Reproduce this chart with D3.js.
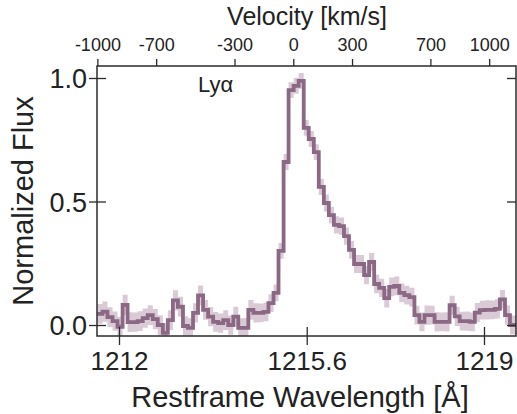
<!DOCTYPE html>
<html>
<head>
<meta charset="utf-8">
<script src="https://cdn.jsdelivr.net/npm/d3@7"></script>
<style>
  body { margin: 0; background: #fff; }
  svg text { font-family: "Liberation Sans", Arial, sans-serif; fill: #222; }
</style>
</head>
<body>
<div id="chart"></div>
<script>
// bin centres [Angstrom]
var wave = [1211.634, 1211.731, 1211.827, 1211.924, 1212.020, 1212.117, 1212.213, 1212.310,
    1212.406, 1212.503, 1212.599, 1212.696, 1212.792, 1212.889, 1212.985, 1213.082,
    1213.178, 1213.275, 1213.371, 1213.468, 1213.564, 1213.661, 1213.757, 1213.854,
    1213.950, 1214.047, 1214.143, 1214.240, 1214.336, 1214.433, 1214.529, 1214.626,
    1214.722, 1214.819, 1214.915, 1215.012, 1215.108, 1215.205, 1215.301, 1215.398,
    1215.494, 1215.591, 1215.687, 1215.784, 1215.880, 1215.977, 1216.073, 1216.170,
    1216.266, 1216.363, 1216.459, 1216.556, 1216.652, 1216.749, 1216.845, 1216.942,
    1217.038, 1217.135, 1217.231, 1217.328, 1217.424, 1217.521, 1217.617, 1217.714,
    1217.810, 1217.907, 1218.003, 1218.100, 1218.196, 1218.293, 1218.389, 1218.486,
    1218.582, 1218.679, 1218.775, 1218.872, 1218.968, 1219.065, 1219.161, 1219.258,
    1219.354, 1219.451, 1219.547, 1219.644];

var flux = [0.045, 0.054, 0.032, 0.016, -0.007, 0.081, 0.012, 0.012,
    0.016, 0.028, 0.040, 0.024, 0.000, -0.032, 0.020, 0.100,
    0.074, -0.004, -0.012, 0.049, 0.120, 0.061, 0.034, 0.013,
    0.008, 0.020, 0.000, 0.034, -0.012, -0.012, 0.061, 0.049,
    0.049, 0.053, 0.089, 0.130, 0.300, 0.660, 0.951, 0.968,
    0.988, 0.798, 0.753, 0.700, 0.559, 0.494, 0.445, 0.405,
    0.400, 0.360, 0.304, 0.247, 0.247, 0.202, 0.255, 0.166,
    0.150, 0.109, 0.154, 0.158, 0.130, 0.121, 0.113, 0.040,
    0.013, 0.040, 0.040, 0.013, 0.013, 0.013, 0.080, 0.035,
    0.016, 0.016, 0.013, 0.050, 0.060, 0.061, 0.061, 0.065,
    0.104, 0.040, 0.000, 0.000];

var fluxErr = [0.040, 0.041, 0.040, 0.039, 0.040, 0.041, 0.040, 0.039,
    0.040, 0.039, 0.040, 0.041, 0.040, 0.039, 0.040, 0.041,
    0.040, 0.039, 0.040, 0.039, 0.040, 0.040, 0.039, 0.040,
    0.039, 0.040, 0.039, 0.040, 0.039, 0.040, 0.040, 0.039,
    0.038, 0.038, 0.036, 0.034, 0.032, 0.032, 0.032, 0.032,
    0.032, 0.032, 0.032, 0.032, 0.033, 0.034, 0.034, 0.035,
    0.035, 0.035, 0.036, 0.036, 0.036, 0.037, 0.037, 0.037,
    0.037, 0.038, 0.038, 0.038, 0.038, 0.038, 0.038, 0.038,
    0.038, 0.039, 0.038, 0.039, 0.038, 0.039, 0.038, 0.039,
    0.038, 0.039, 0.038, 0.039, 0.038, 0.039, 0.038, 0.039,
    0.038, 0.039, 0.038, 0.039];

var waveTicks = [1212, 1215.6, 1219];
var velTicks = [-1000, -700, -300, 0, 300, 700, 1000];
var fluxTicks = [0.0, 0.5, 1.0];

var W = 517, H = 414;
var margin = {top: 66, right: 1, bottom: 78, left: 97};
var width = W - margin.left - margin.right;
var height = H - margin.top - margin.bottom;

var lineColor = "#8b6884";
var bandColor = "#d9cad6";
var axisColor = "#2b2b2b";

var svg = d3.select("#chart").append("svg")
    .attr("width", W)
    .attr("height", H);

var g = svg.append("g")
    .attr("transform", "translate(" + margin.left + "," + margin.top + ")");

// scales
var x = d3.scaleLinear().domain([1211.578, 1219.614]).range([0, width]);
var v = d3.scaleLinear().domain([-1002, 1137]).range([0, width]);
var y = d3.scaleLinear().domain([-0.0445, 1.0486]).range([height, 0]);

g.append("clipPath").attr("id", "plotclip")
    .append("rect").attr("width", width).attr("height", height);

// step data: value i holds from edge i to edge i+1
var steps = wave.map(function (w, i) {
    var half = (i < wave.length - 1 ? wave[i + 1] - w : w - wave[i - 1]) / 2;
    return {x: w - half, f: flux[i], e: fluxErr[i]};
});
var last = wave.length - 1;
steps.push({x: wave[last] + (wave[last] - wave[last - 1]) / 2, f: flux[last], e: fluxErr[last]});

var band = d3.area()
    .x(function (d) { return x(d.x); })
    .y0(function (d) { return y(d.f - d.e); })
    .y1(function (d) { return y(d.f + d.e); })
    .curve(d3.curveStepAfter);

var line = d3.line()
    .x(function (d) { return x(d.x); })
    .y(function (d) { return y(d.f); })
    .curve(d3.curveStepAfter);

var plot = g.append("g").attr("clip-path", "url(#plotclip)");

plot.append("path")
    .datum(steps)
    .attr("d", band)
    .attr("fill", bandColor)
    .attr("stroke", "none");

plot.append("path")
    .datum(steps)
    .attr("d", line)
    .attr("fill", "none")
    .attr("stroke", lineColor)
    .attr("stroke-width", 3.8)
    .attr("stroke-linejoin", "miter");

// bottom axis (ticks in and out)
var xAxis = g.append("g")
    .attr("transform", "translate(0," + height + ")")
    .call(d3.axisBottom(x).tickValues(waveTicks).tickFormat(function (d) { return d; }));
xAxis.selectAll(".tick line").attr("y1", -9).attr("y2", 9);
xAxis.selectAll(".tick text").attr("y", 34).attr("dy", 0).style("font-size", "26px");

// left axis (ticks in and out)
var yAxis = g.append("g")
    .call(d3.axisLeft(y).tickValues(fluxTicks).tickFormat(d3.format(".1f")));
yAxis.selectAll(".tick line").attr("x1", 9).attr("x2", -8);
yAxis.selectAll(".tick text").attr("x", -10).attr("dy", "0.36em").style("font-size", "27px");

// right axis, inner ticks only
var rAxis = g.append("g")
    .attr("transform", "translate(" + width + ",0)")
    .call(d3.axisRight(y).tickValues(fluxTicks).tickSize(-9).tickFormat(""));

// top velocity axis
var vAxis = g.append("g")
    .call(d3.axisTop(v).tickValues(velTicks).tickSize(7).tickFormat(function (d) { return String(d); }));
vAxis.selectAll(".tick text").attr("y", -15).attr("dy", 0).style("font-size", "18px");

[xAxis, yAxis, rAxis, vAxis].forEach(function (a) {
    a.select(".domain").remove();
    a.selectAll(".tick line").attr("stroke", axisColor).attr("stroke-width", 1.3);
    a.selectAll(".tick text").attr("fill", "#222");
});

// frame
g.append("rect")
    .attr("width", width)
    .attr("height", height)
    .attr("fill", "none")
    .attr("stroke", axisColor)
    .attr("stroke-width", 1.5);

// labels
svg.append("text")
    .attr("x", 300)
    .attr("y", 407)
    .attr("text-anchor", "middle")
    .style("font-size", "29px")
    .text("Restframe Wavelength [Å]");

svg.append("text")
    .attr("transform", "translate(33," + (margin.top + height / 2) + ") rotate(-90)")
    .attr("text-anchor", "middle")
    .style("font-size", "29px")
    .text("Normalized Flux");

svg.append("text")
    .attr("x", 307)
    .attr("y", 25)
    .attr("text-anchor", "middle")
    .style("font-size", "25px")
    .text("Velocity [km/s]");

svg.append("text")
    .attr("x", 198)
    .attr("y", 92)
    .style("font-size", "22px")
    .text("Lyα");
</script>
</body>
</html>
